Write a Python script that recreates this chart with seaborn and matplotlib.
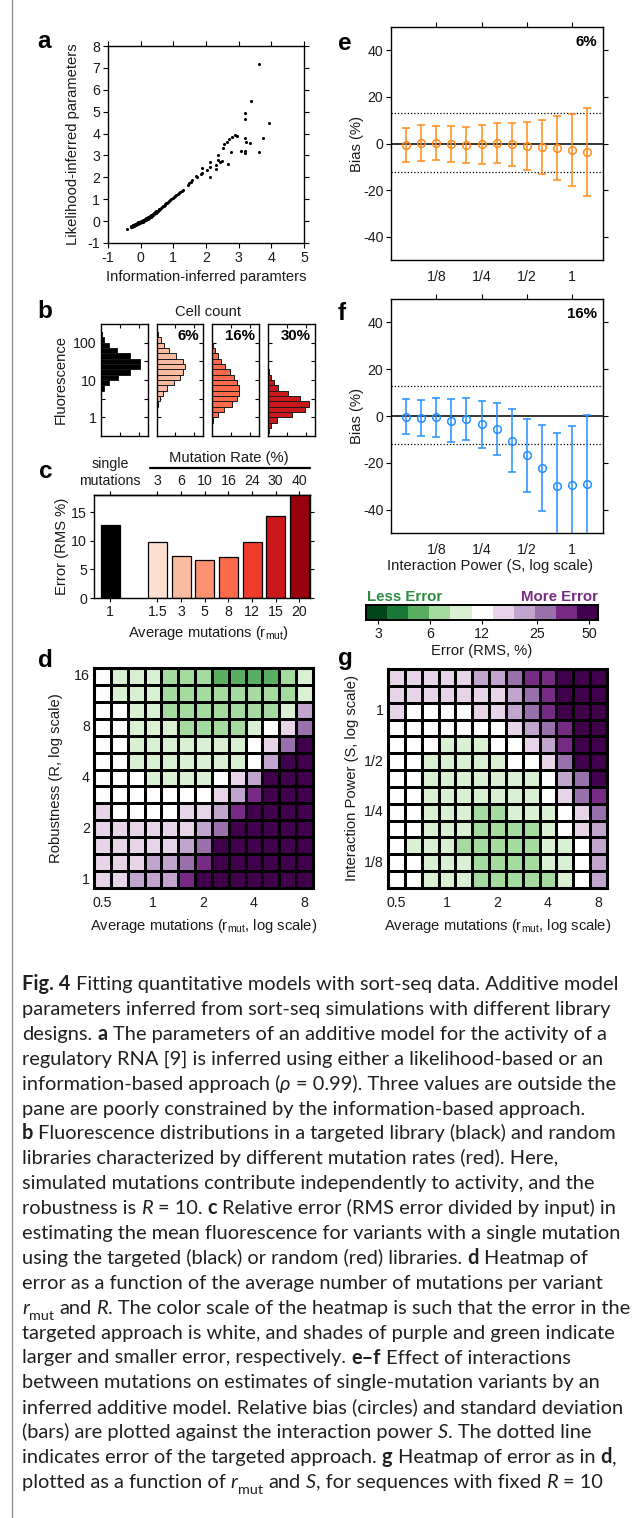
import numpy as np
import pandas as pd
import matplotlib
matplotlib.use("Agg")
import matplotlib.pyplot as plt
import seaborn as sns
from matplotlib.colors import ListedColormap
from matplotlib.lines import Line2D
from matplotlib.ticker import FixedLocator, NullLocator, NullFormatter

# ---------------- data ----------------
# panel a: information-inferred vs likelihood-inferred parameters
a_info = [-0.41, -0.31, -0.29, -0.28, -0.26, -0.25, -0.23, -0.22, -0.20, -0.19, -0.17, -0.16, -0.14, -0.13,
          -0.11, -0.10, -0.08, -0.07, -0.05, -0.04, -0.02, -0.01, 0.01, 0.02, 0.03, 0.05, 0.06, 0.08, 0.09,
          0.11, 0.12, 0.14, 0.15, 0.17, 0.18, 0.20, 0.21, 0.23, 0.25, 0.26, 0.28, 0.30, 0.31, 0.33, 0.35,
          0.37, 0.38, 0.40, 0.42, 0.44, 0.46, 0.48, 0.50, 0.52, 0.55, 0.57, 0.60, 0.62, 0.65, 0.67, 0.70,
          0.73, 0.76, 0.79, 0.82, 0.85, 0.88, 0.91, 0.94, 0.98, 1.01, 1.05, 1.09, 1.13, 1.17, 1.21, 1.25,
          1.29, 1.45, 1.48, 1.53, 1.56, 1.69, 1.71, 1.85, 1.89, 1.87, 2.02, 2.12, 2.11, 2.12, 2.30, 2.32,
          2.37, 2.36, 2.43, 2.48, 2.66, 2.76, 2.51, 2.55, 2.63, 2.71, 2.81, 2.89, 2.94, 3.06, 3.19, 3.19,
          3.19, 3.22, 3.35, 3.63, 3.73, 3.94, 3.19, 3.19, 3.37, 3.62]
a_like = [-0.34, -0.24, -0.27, -0.21, -0.25, -0.19, -0.23, -0.17, -0.21, -0.16, -0.19, -0.13, -0.17, -0.11,
          -0.15, -0.09, -0.12, -0.06, -0.10, -0.05, -0.08, -0.02, -0.06, 0.00, -0.04, 0.02, -0.02, 0.04, 0.00,
          0.07, 0.03, 0.09, 0.05, 0.12, 0.08, 0.14, 0.11, 0.17, 0.14, 0.20, 0.17, 0.24, 0.21, 0.28, 0.25,
          0.32, 0.29, 0.36, 0.33, 0.40, 0.38, 0.44, 0.42, 0.48, 0.50, 0.55, 0.57, 0.62, 0.63, 0.68, 0.70,
          0.75, 0.77, 0.82, 0.85, 0.89, 0.93, 0.97, 1.01, 1.06, 1.10, 1.14, 1.19, 1.24, 1.29, 1.34, 1.39,
          1.44, 1.64, 1.72, 1.80, 1.87, 2.05, 2.02, 2.15, 2.18, 2.41, 2.33, 2.02, 2.48, 2.71, 2.56, 2.36,
          3.02, 2.79, 2.71, 2.76, 2.63, 3.17, 3.32, 3.52, 3.63, 3.75, 3.85, 3.93, 3.90, 3.21, 3.21, 3.12,
          3.81, 3.60, 3.58, 3.17, 3.81, 4.50, 4.66, 4.92, 5.50, 7.18]

# panel b: fluorescence histograms (bins of 1/7 decade, lower edge 10**(k/7))
hist_bin_k = [-3, -2, -1, 0, 1, 2, 3, 4, 5, 6, 7, 8, 9, 10, 11, 12, 13, 14, 15]
hist_targeted = [0, 0, 0, 0, 0, 0, 0, 0, 6, 16, 36, 62, 82, 82, 62, 35, 18, 7, 3]
hist_6 = [0, 0, 0, 0, 0, 2, 6, 12, 22, 36, 50, 57, 60, 56, 42, 26, 15, 8, 2]
hist_16 = [0, 0, 3, 12, 25, 42, 54, 58, 58, 54, 46, 38, 28, 19, 12, 7, 3, 0, 0]
hist_30 = [2, 6, 20, 50, 78, 87, 68, 42, 22, 12, 6, 3, 0, 0, 0, 0, 0, 0, 0]
hist_labels = ["", "6%", "16%", "30%"]

# panel c: RMS error by library
c_avg_mut = ["1", "1.5", "3", "5", "8", "12", "15", "20"]
c_mut_rate = ["single\nmutations", "3", "6", "10", "16", "24", "30", "40"]
c_error = [12.7, 9.7, 7.4, 6.6, 7.2, 9.8, 14.4, 19.0]

# panels d, g: error heatmaps (RMS %)
rmut_vals = ["0.5", "0.63", "0.79", "1", "1.26", "1.59", "2", "2.52", "3.17", "4", "5.04", "6.35", "8"]
R_vals = ["16", "12.7", "10.1", "8", "6.35", "5.04", "4", "3.17", "2.52", "2", "1.59", "1.26", "1"]
S_rows = ["1.59", "1.26", "1", "0.79", "0.63", "1/2", "0.4", "0.31", "1/4", "0.2", "0.16", "1/8", "0.1"]
d_err = [
    [12, 9, 9, 9, 7, 7, 7, 5, 5, 5, 5, 7, 9],
    [12, 9, 9, 9, 7, 7, 7, 7, 7, 7, 7, 7, 9],
    [12, 12, 9, 9, 7, 7, 7, 7, 7, 7, 7, 9, 21],
    [12, 12, 9, 9, 9, 7, 7, 7, 7, 9, 12, 16, 28],
    [12, 12, 9, 9, 9, 9, 9, 9, 9, 12, 16, 28, 50],
    [12, 12, 9, 9, 9, 9, 9, 9, 9, 12, 21, 50, 50],
    [12, 12, 12, 9, 9, 9, 9, 12, 16, 21, 50, 50, 50],
    [12, 12, 12, 12, 12, 12, 12, 16, 21, 37, 50, 50, 50],
    [16, 12, 12, 12, 12, 16, 16, 21, 37, 50, 50, 50, 50],
    [16, 16, 16, 16, 16, 16, 21, 28, 50, 50, 50, 50, 50],
    [16, 16, 16, 16, 16, 21, 28, 50, 50, 50, 50, 50, 50],
    [16, 16, 16, 21, 21, 28, 37, 50, 50, 50, 50, 50, 50],
    [16, 16, 21, 21, 21, 37, 50, 50, 50, 50, 50, 50, 50],
]
g_err = [
    [16, 16, 16, 16, 16, 21, 21, 28, 37, 37, 50, 50, 50],
    [16, 16, 16, 16, 16, 16, 16, 21, 28, 37, 50, 50, 50],
    [16, 12, 12, 12, 12, 16, 16, 21, 28, 37, 50, 50, 50],
    [12, 12, 12, 12, 12, 12, 12, 16, 21, 28, 37, 50, 50],
    [12, 12, 12, 9, 9, 9, 12, 12, 16, 21, 37, 50, 50],
    [12, 12, 9, 9, 9, 9, 9, 12, 12, 16, 28, 50, 50],
    [12, 12, 9, 9, 9, 9, 9, 9, 9, 12, 21, 28, 50],
    [12, 12, 9, 9, 9, 9, 9, 9, 9, 12, 16, 28, 37],
    [12, 12, 9, 9, 9, 7, 7, 9, 9, 9, 12, 16, 28],
    [12, 12, 9, 9, 9, 7, 7, 7, 7, 9, 12, 16, 21],
    [12, 9, 9, 9, 7, 7, 7, 7, 7, 9, 9, 12, 21],
    [12, 12, 9, 9, 9, 7, 7, 7, 7, 9, 9, 12, 21],
    [12, 12, 9, 9, 9, 7, 7, 7, 7, 7, 9, 12, 21],
]
err_bounds = [2.56, 3.39, 4.49, 5.95, 7.88, 10.43, 13.81, 18.28, 24.2, 32.0, 42.4, 56.2]
err_ticks = [3, 6, 12, 25, 50]

# panels e, f: bias vs interaction power
S_points = [0.079, 0.099, 0.125, 0.157, 0.198, 0.25, 0.315, 0.397, 0.5, 0.63, 0.794, 1.0, 1.26]
S_tick_vals = [0.125, 0.25, 0.5, 1.0]
S_tick_labels = ["1/8", "1/4", "1/2", "1"]
e_bias = [-0.6, 0.3, 0.4, -0.3, -0.7, -0.4, 0.1, -0.4, -0.9, -1.6, -1.9, -2.7, -3.6]
e_sd = [7.3, 7.6, 7.3, 7.6, 7.8, 8.2, 8.6, 9.2, 10.3, 11.5, 13.8, 15.4, 18.8]
f_bias = [-0.3, -0.9, -0.6, -2.0, -1.3, -3.6, -5.6, -10.6, -16.7, -22.3, -30.0, -29.6, -29.1]
f_sd = [7.4, 7.7, 8.5, 9.1, 9.1, 10.0, 11.1, 13.4, 15.6, 18.5, 22.9, 25.2, 29.5]
targeted_hi, targeted_lo = 12.9, -12.1

# ---------------- style ----------------
sns.set_theme(style="ticks")
plt.rcParams.update({
    "font.family": ["Liberation Sans", "DejaVu Sans"],
    "mathtext.fontset": "custom",
    "mathtext.rm": "Liberation Sans",
    "mathtext.it": "Liberation Sans:italic",
    "axes.unicode_minus": False,
    "axes.edgecolor": "black",
    "axes.linewidth": 1.0,
    "xtick.color": "black",
    "ytick.color": "black",
    "text.color": "#1a1a1a",
    "axes.labelcolor": "#1a1a1a",
    "xtick.labelcolor": "#1a1a1a",
    "ytick.labelcolor": "#1a1a1a",
    "xtick.minor.visible": False,
    "ytick.minor.visible": False,
})

W, H = 632, 1518
fig = plt.figure(figsize=(W / 100, H / 100), dpi=100)
fig.patch.set_facecolor("white")
TICK = 10.2
LAB = 10.6


def add_ax(box):
    l, t, r, b = box
    ax = fig.add_axes([l / W, 1 - b / H, (r - l) / W, (b - t) / H])
    ax._box = box
    return ax


def ftext(x, y, s, **kw):
    return fig.text(x / W, 1 - y / H, s, **kw)


def ylabel_at(ax, text, x_px, y_px=None):
    l, t, r, b = ax._box
    if y_px is None:
        y_px = (t + b) / 2
    ax.set_ylabel(text, fontsize=LAB)
    ax.yaxis.set_label_coords((x_px - l) / (r - l), (b - y_px) / (b - t))
    ax.yaxis.label.set_va("center")


def xlabel_at(ax, text, y_px, x_px=None):
    l, t, r, b = ax._box
    if x_px is None:
        x_px = (l + r) / 2
    ax.set_xlabel(text, fontsize=LAB)
    ax.xaxis.set_label_coords((x_px - l) / (r - l), (b - y_px) / (b - t))
    ax.xaxis.label.set_va("center")


def letter(x, y, s):
    ftext(x, y, s, ha="center", va="baseline", fontsize=17.5, fontweight="bold", color="black")


# left border line
fig.add_artist(Line2D([11.5 / W, 11.5 / W], [0, 1], color="#8a8a8a", lw=0.9))

# ---------------- panel a ----------------
ax = add_ax((108, 46, 304, 243))
sns.scatterplot(x=a_info, y=a_like, ax=ax, s=5, color="black", linewidth=0, legend=False)
ax.set_xlim(-1, 5)
ax.set_ylim(-1, 8)
ax.set_xticks(range(-1, 6))
ax.set_yticks(range(-1, 9))
ax.tick_params(direction="out", length=3.5, width=0.8, top=True, right=True, bottom=True, left=True,
               labelsize=TICK, pad=2)
xlabel_at(ax, "Information-inferred paramters", 277)
ylabel_at(ax, "Likelihood-inferred parameters", 73)
letter(44, 48, "a")

# ---------------- panel b ----------------
hist_boxes = [(101, 324, 148, 436), (157, 324, 203, 436), (212, 324, 259, 436), (268, 324, 315, 436)]
hist_fill = ["black", "#fcbba1", "#fb6a4a", "#cb181d"]
k = np.array(hist_bin_k, float)
lo = 10 ** (k / 7.0)
hi = 10 ** ((k + 1) / 7.0)
for i, (box, counts) in enumerate(zip(hist_boxes, [hist_targeted, hist_6, hist_16, hist_30])):
    ax = add_ax(box)
    cnt = np.array(counts, float)
    m = cnt > 0
    ax.barh(lo[m], cnt[m], height=(hi - lo)[m], align="edge", left=0, color=hist_fill[i],
            edgecolor="#1a1a1a", linewidth=0.7)
    ax.set_yscale("log")
    ax.set_ylim(10 ** -0.5, 10 ** 2.5)
    ax.set_xlim(0, 100)
    ax.yaxis.set_major_locator(FixedLocator([1, 10, 100]))
    ax.yaxis.set_minor_locator(FixedLocator([10 ** 0.5, 10 ** 1.5]))
    ax.yaxis.set_minor_formatter(NullFormatter())
    ax.set_xticks([40, 80])
    ax.tick_params(axis="both", which="both", direction="in", length=3, width=0.8,
                   top=True, bottom=True, left=True, right=True, labelbottom=False)
    if i == 0:
        ax.set_yticklabels(["1", "10", "100"])
        ax.tick_params(axis="y", labelsize=TICK, pad=3)
        ylabel_at(ax, "Fluorescence", 61, 380)
    else:
        ax.tick_params(axis="y", labelleft=False)
        ftext(box[2] - 4, 336, hist_labels[i], ha="right", va="center", fontsize=10.8,
              fontweight="bold", color="black")
ftext(208, 312, "Cell count", ha="center", va="center", fontsize=LAB)
letter(45, 318, "b")

# ---------------- panel c ----------------
ax = add_ax((94, 495, 310, 598))
c_pos = [0, 2, 3, 4, 5, 6, 7, 8]
c_colors = ["black", "#fee0d2", "#fcbba1", "#fc9272", "#fb6a4a", "#ef3b2c", "#cb181d", "#99000d"]
ax.bar(c_pos, c_error, width=0.8, color=c_colors, edgecolor="black", linewidth=0.9)
ax.set_xlim(-0.68, 8.45)
ax.set_ylim(0, 18)
ax.set_xticks(c_pos, c_avg_mut)
ax.set_yticks([0, 5, 10, 15])
ax.tick_params(direction="out", length=3, width=0.8, right=True, left=True, bottom=True,
               labelsize=TICK, pad=2)
sec = ax.secondary_xaxis("top")
sec.set_xticks(c_pos, c_mut_rate)
sec.tick_params(direction="out", length=3, width=0.8, labelsize=TICK, pad=2)
for lb in sec.get_xticklabels():
    lb.set_linespacing(1.3)
ylabel_at(ax, "Error (RMS %)", 62)
xlabel_at(ax, r"Average mutations (r$_{\mathrm{mut}}$)", 633, 208)
ftext(229, 458, "Mutation Rate (%)", ha="center", va="center", fontsize=LAB)
fig.add_artist(Line2D([150 / W, 310 / W], [1 - 468 / H, 1 - 468 / H], color="black", lw=1.6))
letter(46, 478, "c")

# ---------------- heatmap colours (PRGn, 11 classes, green = low error) ----------------
err_colors = ["#00441b", "#1b7837", "#5aae61", "#a6dba0", "#d9f0d3", "#ffffff",
              "#e7d4e8", "#c2a5cf", "#9970ab", "#762a83", "#40004b"]
err_cmap = ListedColormap(err_colors)
bounds = np.array(err_bounds)


def err_class(arr):
    return np.clip(np.digitize(np.array(arr, float), bounds) - 1, 0, 10)


def draw_heatmap(box, values, row_labels, ytick_idx, ytick_lab, ylab, ylab_x):
    ax = add_ax(box)
    df = pd.DataFrame(err_class(values), index=row_labels, columns=rmut_vals)
    sns.heatmap(df, ax=ax, cmap=err_cmap, vmin=-0.5, vmax=10.5, cbar=False,
                linewidths=1.0, linecolor="black")
    for sp in ax.spines.values():
        sp.set_visible(True)
        sp.set_linewidth(2.2)
        sp.set_color("black")
    ax.set_xticks([0.5, 3.5, 6.5, 9.5, 12.5], ["0.5", "1", "2", "4", "8"], rotation=0)
    ax.set_yticks([i + 0.5 for i in ytick_idx], ytick_lab, rotation=0)
    ax.tick_params(axis="x", length=0, pad=6, labelsize=TICK)
    ax.tick_params(axis="y", length=0, pad=3, labelsize=TICK)
    ylabel_at(ax, ylab, ylab_x)
    xlabel_at(ax, r"Average mutations (r$_{\mathrm{mut}}$, log scale)", 926)
    return ax


draw_heatmap((94, 668, 313, 888), d_err, R_vals, [0, 3, 6, 9, 12], ["16", "8", "4", "2", "1"],
             "Robustness (R, log scale)", 56)
letter(45, 667, "d")
draw_heatmap((388, 669, 607, 888), g_err, S_rows, [2, 5, 8, 11], ["1", "1/2", "1/4", "1/8"],
             "Interaction Power (S, log scale)", 352)
letter(345, 665, "g")

# ---------------- colour bar ----------------
cax = add_ax((366, 605, 598, 620))
cax.set_xscale("log")
cax.pcolormesh(bounds, [0, 1], np.arange(11)[None, :], cmap=err_cmap, vmin=-0.5, vmax=10.5)
cax.set_xlim(bounds[0], bounds[-1])
cax.set_ylim(0, 1)
cax.xaxis.set_major_locator(FixedLocator(err_ticks))
cax.set_xticklabels([str(t) for t in err_ticks])
cax.xaxis.set_minor_locator(NullLocator())
cax.set_yticks([])
for sp in cax.spines.values():
    sp.set_linewidth(1.4)
cax.tick_params(axis="x", direction="out", length=3, width=0.8, labelsize=TICK, pad=2)
ftext(367, 597, "Less Error", ha="left", va="center", fontsize=10.8, fontweight="bold", color="#2e8b43")
ftext(598, 597, "More Error", ha="right", va="center", fontsize=10.8, fontweight="bold", color="#762a83")
ftext(482, 651, "Error (RMS, %)", ha="center", va="center", fontsize=LAB)

# ---------------- panels e, f ----------------
def draw_bias(box, bias, sd, col, tag, show_xlabel):
    ax = add_ax(box)
    ax.axhline(0, color="black", lw=1.1, zorder=1)
    ax.axhline(targeted_hi, color="black", lw=0.9, ls=(0, (1, 1.6)), zorder=1)
    ax.axhline(targeted_lo, color="black", lw=0.9, ls=(0, (1, 1.6)), zorder=1)
    ax.errorbar(S_points, bias, yerr=sd, fmt="o", ms=5.5, mfc="none", mec=col, mew=1.1,
                ecolor=col, elinewidth=1.1, capsize=2.6, capthick=1.1, zorder=3)
    ax.set_xscale("log", base=2)
    ax.set_xlim(2 ** -4.0, 2 ** 0.68)
    ax.set_ylim(-50, 50)
    ax.xaxis.set_major_locator(FixedLocator(S_tick_vals))
    ax.set_xticklabels(S_tick_labels)
    ax.xaxis.set_minor_locator(NullLocator())
    ax.set_yticks([-40, -20, 0, 20, 40])
    ax.tick_params(axis="y", direction="out", length=3.5, width=0.8, left=True, right=True,
                   labelsize=TICK, pad=2)
    ax.tick_params(axis="x", direction="out", length=3.5, width=0.8, top=True, bottom=False,
                   labelbottom=True, labelsize=TICK, pad=4)
    ylabel_at(ax, "Bias (%)", 357)
    if show_xlabel:
        xlabel_at(ax, "Interaction Power (S, log scale)", 566, 490)
    ftext(box[2] - 6, box[1] + 15, tag, ha="right", va="center", fontsize=10.8, fontweight="bold",
          color="black")
    return ax


draw_bias((391, 27, 603, 260), e_bias, e_sd, "#ff8c1a", "6%", False)
letter(345, 50, "e")
draw_bias((391, 299, 603, 533), f_bias, f_sd, "#2490ff", "16%", True)
letter(342, 320, "f")

# ---------------- caption ----------------
caption = [
    [("Fig. 4", "b"), (" Fitting quantitative models with sort-seq data. Additive model", "r")],
    [("parameters inferred from sort-seq simulations with different library", "r")],
    [("designs. ", "r"), ("a", "b"), (" The parameters of an additive model for the activity of a", "r")],
    [("regulatory RNA [9] is inferred using either a likelihood-based or an", "r")],
    [("information-based approach (", "r"), ("ρ", "i"), (" = 0.99). Three values are outside the", "r")],
    [("pane are poorly constrained by the information-based approach.", "r")],
    [("b", "b"), (" Fluorescence distributions in a targeted library (black) and random", "r")],
    [("libraries characterized by different mutation rates (red). Here,", "r")],
    [("simulated mutations contribute independently to activity, and the", "r")],
    [("robustness is ", "r"), ("R", "i"), (" = 10. ", "r"), ("c", "b"),
     (" Relative error (RMS error divided by input) in", "r")],
    [("estimating the mean fluorescence for variants with a single mutation", "r")],
    [("using the targeted (black) or random (red) libraries. ", "r"), ("d", "b"), (" Heatmap of", "r")],
    [("error as a function of the average number of mutations per variant", "r")],
    [("r", "i"), ("mut", "sub"), (" and ", "r"), ("R", "i"),
     (". The color scale of the heatmap is such that the error in the", "r")],
    [("targeted approach is white, and shades of purple and green indicate", "r")],
    [("larger and smaller error, respectively. ", "r"), ("e–f", "b"), (" Effect of interactions", "r")],
    [("between mutations on estimates of single-mutation variants by an", "r")],
    [("inferred additive model. Relative bias (circles) and standard deviation", "r")],
    [("(bars) are plotted against the interaction power ", "r"), ("S", "i"), (". The dotted line", "r")],
    [("indicates error of the targeted approach. ", "r"), ("g", "b"), (" Heatmap of error as in ", "r"),
     ("d", "b"), (",", "r")],
    [("plotted as a function of ", "r"), ("r", "i"), ("mut", "sub"), (" and ", "r"), ("S", "i"),
     (", for sequences with fixed ", "r"), ("R", "i"), (" = 10", "r")],
]
cap_family = ["Lato", "DejaVu Sans"]
cap_color = "#231f20"


def style_kw(st, fs):
    kw = dict(family=cap_family, fontsize=fs, color=cap_color)
    if st == "b":
        kw["fontweight"] = "bold"
    elif st == "i":
        kw["fontstyle"] = "italic"
    elif st == "sub":
        kw["fontsize"] = fs * 0.72
    return kw


renderer = fig.canvas.get_renderer()


def measure(s, st, fs):
    kw = style_kw(st, fs)
    t1 = fig.text(0, 0, "|" + s + "|", **kw)
    t2 = fig.text(0, 0, "||", **kw)
    w = t1.get_window_extent(renderer).width - t2.get_window_extent(renderer).width
    t1.remove()
    t2.remove()
    return w


def seg_parts(s):
    core = s.strip(" ")
    lead = len(s) - len(s.lstrip(" "))
    trail = len(s) - len(s.rstrip(" "))
    return core, lead, trail


space_cache = {}


def space_w(st, fs):
    key = (st, round(fs, 3))
    if key not in space_cache:
        space_cache[key] = measure(" ", st, fs)
    return space_cache[key]


def line_width(line, fs):
    w = 0
    for s, st in line:
        core, lead, trail = seg_parts(s)
        w += (lead + trail) * space_w(st, fs) + (measure(core, st, fs) if core else 0)
    return w


base_fs = 12.0
fs = base_fs * 594.0 / line_width(caption[0], base_fs)

x0, y0, dy = 22.0, 990.0, 24.9
for li, line in enumerate(caption):
    x = x0
    yb = y0 + li * dy
    for s, st in line:
        core, lead, trail = seg_parts(s)
        x += lead * space_w(st, fs)
        if core:
            off = fs * 0.30 * 100 / 72 if st == "sub" else 0.0
            ftext(x, yb + off, core, ha="left", va="baseline", **style_kw(st, fs))
            x += measure(core, st, fs)
        x += trail * space_w(st, fs)

fig.savefig("out.png", dpi=100, facecolor="white")
